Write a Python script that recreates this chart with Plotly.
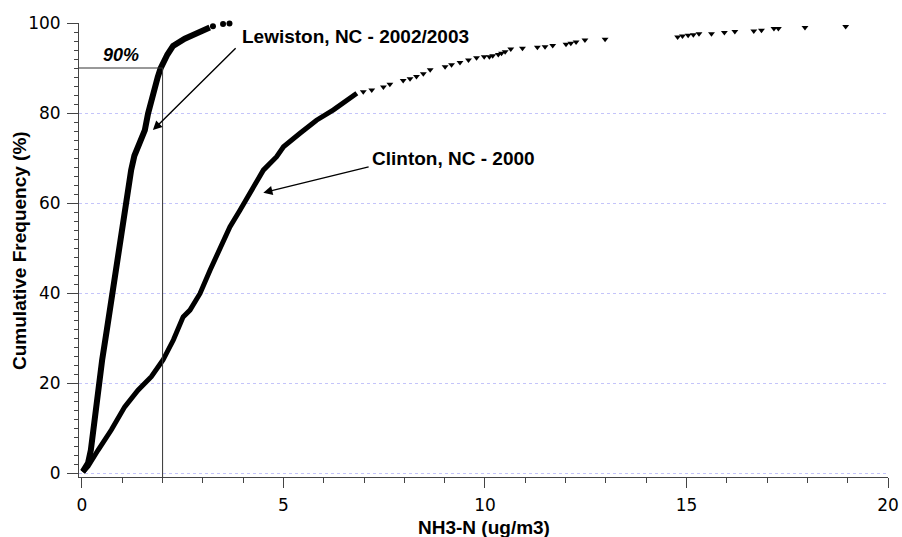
import plotly.graph_objects as go

# ---------------- data ----------------
# Lewiston, NC - 2002/2003 : dense part of the cumulative curve
lewiston_x = [0.02, 0.15, 0.22, 0.31, 0.40, 0.50, 0.62, 0.75, 0.84, 0.91, 1.00, 1.10,
              1.22, 1.30, 1.39, 1.45, 1.56, 1.64, 1.72, 1.80, 1.88, 1.95, 2.05, 2.12,
              2.26, 2.40, 2.55, 2.70, 2.88, 3.05, 3.17]
lewiston_y = [0.3, 2.2, 5.1, 12.5, 19.9, 25.1, 32.0, 39.9, 45.0, 49.6, 54.5, 59.9,
              67.3, 70.5, 72.5, 73.8, 76.2, 79.9, 83.0, 85.8, 88.0, 89.9, 91.8, 93.0,
              94.9, 95.8, 96.5, 97.1, 97.8, 98.5, 99.0]
# Lewiston: isolated points at the top end
lewiston_tail_x = [3.25, 3.50, 3.66]
lewiston_tail_y = [99.3, 99.8, 99.9]

# Clinton, NC - 2000 : dense part of the cumulative curve
clinton_x = [0.02, 0.15, 0.40, 0.73, 1.06, 1.39, 1.72, 2.01, 2.27, 2.51, 2.68, 2.93,
             3.18, 3.42, 3.67, 3.92, 4.17, 4.50, 4.83, 5.00, 5.41, 5.82, 6.24, 6.65, 6.82]
clinton_y = [0.2, 1.5, 5.1, 9.6, 14.7, 18.4, 21.4, 25.1, 29.6, 34.7, 36.2, 39.9,
             45.1, 49.6, 54.7, 58.4, 62.2, 67.3, 70.3, 72.5, 75.5, 78.4, 80.7, 83.3, 84.4]
# Clinton: sparse upper tail (individual samples)
clinton_tail_x = [6.98, 7.19, 7.48, 7.64, 7.97, 8.14, 8.30, 8.47, 8.64, 9.01, 9.17, 9.38,
                  9.59, 9.79, 9.98, 10.11, 10.19, 10.33, 10.41, 10.50, 10.64, 10.93, 11.30,
                  11.49, 11.68, 12.01, 12.13, 12.26, 12.48, 12.98, 14.78, 14.90, 15.04,
                  15.17, 15.31, 15.62, 15.94, 16.20, 16.67, 16.86, 17.17, 17.28, 17.94, 18.95]
clinton_tail_y = [84.7, 85.1, 85.8, 86.4, 87.2, 87.6, 88.1, 88.7, 89.6, 90.3, 90.7, 91.2,
                  91.8, 92.3, 92.5, 92.5, 92.7, 93.0, 93.3, 93.6, 94.2, 94.4, 94.6,
                  94.7, 95.0, 95.3, 95.5, 95.8, 96.2, 96.4, 96.9, 97.1, 97.3,
                  97.4, 97.6, 97.6, 97.9, 98.1, 98.2, 98.4, 98.8, 98.8, 99.0, 99.2]

x_ticks = [0, 5, 10, 15, 20]
y_ticks = [0, 20, 40, 60, 80, 100]
threshold_x = 2        # ug/m3
threshold_pct = 90     # %

x_title = "NH3-N (ug/m3)"
y_title = "Cumulative Frequency (%)"
lewiston_label = "Lewiston, NC - 2002/2003"
clinton_label = "Clinton, NC - 2000"
lewiston_label_pos = (3.92, 96.9)
lewiston_arrow_tail = (3.85, 94.7)
lewiston_arrow_head = (1.76, 76.2)
clinton_label_pos = (7.15, 70.0)
clinton_arrow_tail = (7.15, 68.1)
clinton_arrow_head = (4.50, 62.3)
pct_label_pos = (0.98, 92.9)

x_range = [-0.074, 20]
y_range = [-0.89, 100]

# ---------------- figure ----------------
TXT = "Arial, 'Liberation Sans', sans-serif"
TICKF = "'DejaVu Sans', Verdana, sans-serif"

fig = go.Figure()

fig.add_trace(go.Scatter(x=lewiston_x, y=lewiston_y, mode="lines",
                         line=dict(color="black", width=6), cliponaxis=False,
                         showlegend=False))
fig.add_trace(go.Scatter(x=lewiston_tail_x, y=lewiston_tail_y, mode="markers",
                         marker=dict(symbol="circle", size=6, color="black"),
                         cliponaxis=False, showlegend=False))
fig.add_trace(go.Scatter(x=clinton_x, y=clinton_y, mode="lines",
                         line=dict(color="black", width=5), cliponaxis=False,
                         showlegend=False))
fig.add_trace(go.Scatter(x=clinton_tail_x, y=clinton_tail_y, mode="markers",
                         marker=dict(symbol="triangle-down", size=6, color="black"),
                         cliponaxis=False, showlegend=False))

# 90 % reference lines
fig.add_shape(type="line", xref="x", yref="y", x0=threshold_x, x1=threshold_x,
              y0=y_range[0], y1=threshold_pct, line=dict(color="#333", width=1))
fig.add_shape(type="line", xref="x", yref="y", x0=x_range[0], x1=threshold_x,
              y0=threshold_pct, y1=threshold_pct, line=dict(color="#333", width=1))

annotations = [
    dict(x=pct_label_pos[0], y=pct_label_pos[1], xref="x", yref="y",
         text="<b><i>90%</i></b>", showarrow=False,
         font=dict(family=TXT, size=18, color="black")),
    dict(x=lewiston_label_pos[0], y=lewiston_label_pos[1], xref="x", yref="y",
         text="<b>" + lewiston_label + "</b>", showarrow=False, xanchor="left",
         font=dict(family=TXT, size=19, color="black")),
    dict(x=clinton_label_pos[0], y=clinton_label_pos[1], xref="x", yref="y",
         text="<b>" + clinton_label + "</b>", showarrow=False, xanchor="left",
         font=dict(family=TXT, size=19, color="black")),
    dict(x=lewiston_arrow_head[0], y=lewiston_arrow_head[1], xref="x", yref="y",
         ax=lewiston_arrow_tail[0], ay=lewiston_arrow_tail[1], axref="x", ayref="y",
         text="", showarrow=True, arrowhead=2, arrowsize=1.3, arrowwidth=1.4,
         arrowcolor="black"),
    dict(x=clinton_arrow_head[0], y=clinton_arrow_head[1], xref="x", yref="y",
         ax=clinton_arrow_tail[0], ay=clinton_arrow_tail[1], axref="x", ayref="y",
         text="", showarrow=True, arrowhead=2, arrowsize=1.3, arrowwidth=1.4,
         arrowcolor="black"),
    # axis titles (placed in paper coordinates)
    dict(x=0.5, y=-0.112, xref="paper", yref="paper", xanchor="center", yanchor="middle",
         text="<b>" + x_title + "</b>", showarrow=False,
         font=dict(family=TXT, size=19, color="black")),
    dict(x=-0.0742, y=0.5, xref="paper", yref="paper", xanchor="center", yanchor="middle",
         text="<b>" + y_title + "</b>", showarrow=False, textangle=-90,
         font=dict(family=TXT, size=19, color="black")),
]

fig.update_layout(
    width=902, height=537,
    margin=dict(l=79, r=14, t=23, b=60, autoexpand=False),
    paper_bgcolor="white", plot_bgcolor="white",
    annotations=annotations,
    showlegend=False,
)

fig.update_xaxes(
    range=x_range, tickvals=x_ticks, ticktext=[str(v) for v in x_ticks],
    ticks="outside", ticklen=10, tickwidth=1, tickcolor="#444",
    minor=dict(dtick=1, tick0=0, ticks="outside", ticklen=5, tickcolor="#444", showgrid=False),
    showline=True, linecolor="#444", linewidth=1,
    showgrid=False, zeroline=False, automargin=False,
    ticklabelstandoff=3,
    tickfont=dict(family=TICKF, size=17, color="black"),
)
fig.update_yaxes(
    range=y_range, tickvals=y_ticks, ticktext=[str(v) for v in y_ticks],
    ticks="outside", ticklen=11, tickwidth=1, tickcolor="#444",
    minor=dict(dtick=2, tick0=0, ticks="outside", ticklen=4, tickcolor="#444", showgrid=False),
    showline=True, linecolor="#444", linewidth=1,
    showgrid=True, gridcolor="#c4c4fa", griddash="dot", gridwidth=1,
    zeroline=False, automargin=False,
    ticklabelstandoff=3,
    tickfont=dict(family=TICKF, size=17, color="black"),
)

fig.write_html("out.html")
